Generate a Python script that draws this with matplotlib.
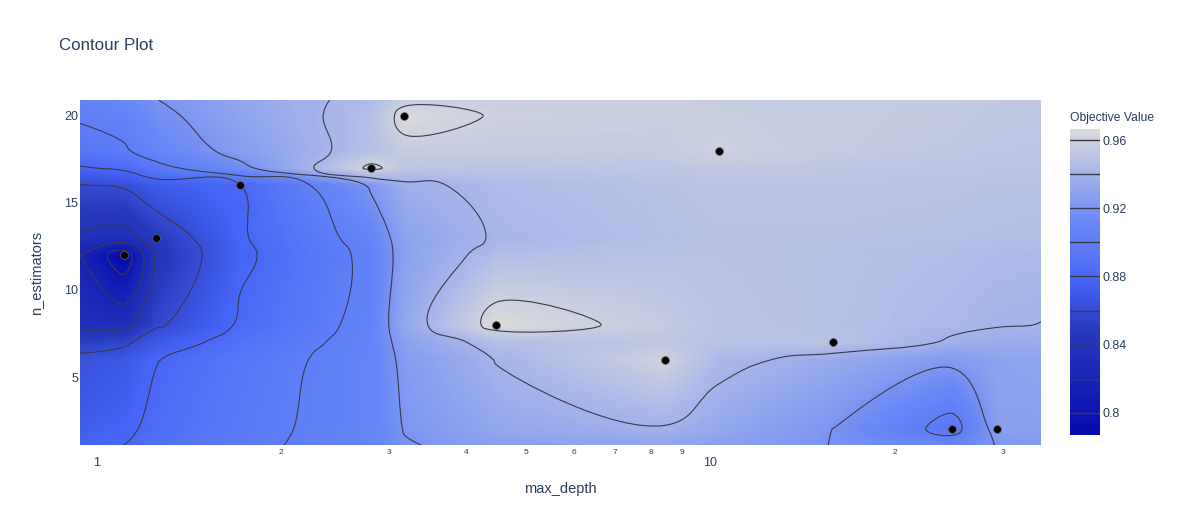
import numpy as np
import matplotlib
matplotlib.use('Agg')
import matplotlib.pyplot as plt
from matplotlib.colors import LinearSegmentedColormap, Normalize
from matplotlib.cm import ScalarMappable
from matplotlib.ticker import FixedLocator
from matplotlib.path import Path
from matplotlib.patches import PathPatch
from matplotlib.transforms import Affine2D
import contourpy

plt.rcParams['font.family'] = ['Liberation Sans', 'DejaVu Sans']

# trials
max_depth = [3.174, 10.33, 2.804, 1.716, 1.249, 1.108, 4.481, 15.81, 8.437, 24.74, 29.32]
n_estimators = [20, 18, 17, 16, 13, 12, 8, 7, 6, 2, 2]
objective = [0.9658, 0.959, 0.9638, 0.880, 0.848, 0.787, 0.9665, 0.950, 0.9595, 0.893, 0.927]

levels = [0.80, 0.82, 0.84, 0.86, 0.88, 0.90, 0.92, 0.94, 0.96]
cbar_ticks = [0.80, 0.84, 0.88, 0.92, 0.96]
cbar_labels = ['0.8', '0.84', '0.88', '0.92', '0.96']
x_major = [1, 10]
x_minor = [2, 3, 4, 5, 6, 7, 8, 9, 20, 30]
x_minor_labels = ['2', '3', '4', '5', '6', '7', '8', '9', '2', '3']
y_ticks = [5, 10, 15, 20]

txt = '#2a3f5f'
line_col = '#3a3a4a'


def find_empties(z):
    # order in which plotly fills gaps (connectgaps)
    ny, nx = len(z), len(z[0])
    isdef = lambda i, j: 0 <= i < ny and 0 <= j < nx and z[i][j] is not None
    empties, hash_, lonely = [], {}, []
    for i in range(ny):
        for j in range(nx):
            if z[i][j] is None:
                c = isdef(i, j-1) + isdef(i, j+1) + isdef(i-1, j) + isdef(i+1, j)
                if c:
                    c += (i == 0) + (j == 0) + (i == ny-1) + (j == nx-1)
                    if c < 4:
                        hash_[(i, j)] = c
                    empties.append((i, j, c))
                else:
                    lonely.append((i, j))
    while lonely:
        new = {}
        for p in range(len(lonely)-1, -1, -1):
            i, j = lonely[p]
            c = sum(hash_.get(k, 0) for k in [(i-1, j), (i+1, j), (i, j-1), (i, j+1)]) / 20
            if c:
                new[(i, j)] = c
                lonely.pop(p)
        for k, c in new.items():
            hash_[k] = c
            empties.append((k[0], k[1], c))
    return sorted(empties, key=lambda e: -e[2])


def iterate(z, empties, overshoot=None):
    ny, nx = len(z), len(z[0])
    maxchange = 0
    for i, j, _ in empties:
        init = z[i][j]
        vals = [z[i+a][j+b] for a, b in [(-1, 0), (1, 0), (0, -1), (0, 1)]
                if 0 <= i+a < ny and 0 <= j+b < nx and z[i+a][j+b] is not None]
        z[i][j] = sum(vals) / len(vals)
        if overshoot is None:
            if len(vals) < 4:
                maxchange = 1
        else:
            z[i][j] = (1 + overshoot) * z[i][j] - overshoot * init
            if max(vals) > min(vals):
                maxchange = max(maxchange, abs(z[i][j] - init) / (max(vals) - min(vals)))
    return maxchange


def connect_gaps(z):
    empties = find_empties(z)
    iterate(z, empties)
    k = 0
    while k < len(empties) and empties[k][2] >= 4:
        k += 1
    empties = empties[k:]
    ch = 1
    for _ in range(100):
        if ch <= 0.01:
            break
        ch = iterate(z, empties, 0.5 - 0.25 * min(1, ch * 0.5))
    return np.array(z, float)


def tangent(p0, p1, p2, s):
    d1, d2 = p0 - p1, p2 - p1
    a1, a2 = (d1 @ d1) ** 0.25, (d2 @ d2) ** 0.25
    num = (a2 * a2 * d1 - a1 * a1 * d2) * s
    den1, den2 = 3 * a2 * (a1 + a2), 3 * a1 * (a1 + a2)
    return (p1 + (num / den1 if den1 else 0), p1 - (num / den2 if den2 else 0))


def smooth_path(pts, closed, s=1.3):
    keep = [pts[0]]
    for p in pts[1:]:
        if np.hypot(*(p - keep[-1])) > 0.3:
            keep.append(p)
    pts = np.array(keep)
    if closed and len(pts) > 1 and np.hypot(*(pts[0] - pts[-1])) < 0.3:
        pts = pts[:-1]
    n = len(pts)
    if n < 3:
        return Path(pts)
    verts, codes = [pts[0]], [Path.MOVETO]
    if closed:
        t = [tangent(pts[i-1], pts[i], pts[(i+1) % n], s) for i in range(n)]
        for i in range(1, n + 1):
            verts += [t[i-1][1], t[i % n][0], pts[i % n]]
            codes += [Path.CURVE4] * 3
    else:
        t = [tangent(pts[i-1], pts[i], pts[i+1], s) for i in range(1, n - 1)]
        verts += [t[0][0], pts[1]]
        codes += [Path.CURVE3] * 2
        for i in range(2, n - 1):
            verts += [t[i-2][1], t[i-1][0], pts[i]]
            codes += [Path.CURVE4] * 3
        verts += [t[-1][1], pts[-1]]
        codes += [Path.CURVE3] * 2
    return Path(np.array(verts), codes)


# grid = unique param values plus 5% padding on each side
lx = np.log10(max_depth)
pad = (lx.max() - lx.min()) * 0.05
xs = [10**(lx.min() - pad)] + sorted(set(max_depth)) + [10**(lx.max() + pad)]
pad = (max(n_estimators) - min(n_estimators)) * 0.05
ys = [min(n_estimators) - pad] + sorted(set(n_estimators)) + [max(n_estimators) + pad]
grid = [[None] * len(xs) for _ in ys]
for x, y, v in zip(max_depth, n_estimators, objective):
    grid[ys.index(y)][xs.index(x)] = v
Z = connect_gaps(grid)

# heatmap smoothing between grid nodes (linear in screen space)
lxs = np.log10(xs)
fx = np.linspace(lxs[0], lxs[-1], 600)
fy = np.linspace(ys[0], ys[-1], 300)
Zr = np.array([np.interp(fx, lxs, row) for row in Z])
Zf = np.array([np.interp(fy, ys, col) for col in Zr.T]).T
FX, FY = np.meshgrid(10**fx, fy)

cmap = LinearSegmentedColormap.from_list('plotly_blues', [
    (0.0, (5/255, 10/255, 172/255)), (0.35, (40/255, 60/255, 190/255)),
    (0.5, (70/255, 100/255, 245/255)), (0.6, (90/255, 120/255, 245/255)),
    (0.7, (106/255, 137/255, 247/255)), (1.0, (220/255, 220/255, 220/255))])
norm = Normalize(vmin=min(objective), vmax=max(objective))

fig = plt.figure(figsize=(11.77, 5.25), dpi=100)
W, H = 1177, 525
AW, AH = 961, 345
ax = fig.add_axes([80/W, (H-445)/H, AW/W, AH/H])
ax.set_xscale('log')
ax.pcolormesh(FX, FY, Zf, cmap=cmap, norm=norm, shading='gouraud', rasterized=True)

# contour lines on the coarse grid, smoothed like plotly (line_smoothing=1.3)
gen = contourpy.contour_generator(np.array(xs), np.array(ys), Z)
to_px = Affine2D().scale(1 / AW, 1 / AH) + ax.transAxes
for lv in levels:
    for seg in gen.lines(lv):
        if len(seg) < 2:
            continue
        closed = np.allclose(seg[0], seg[-1])
        px_ = (np.log10(seg[:, 0]) - lxs[0]) / (lxs[-1] - lxs[0]) * AW
        py_ = (seg[:, 1] - ys[0]) / (ys[-1] - ys[0]) * AH
        path = smooth_path(np.column_stack([px_, py_]), closed)
        ax.add_patch(PathPatch(path, transform=to_px, fill=False, edgecolor=line_col,
                               linewidth=0.8, clip_on=True))

ax.scatter(max_depth, n_estimators, s=32, c='black', edgecolors='#666666', linewidths=0.5, zorder=5)
ax.set_xlim(xs[0], xs[-1])
ax.set_ylim(ys[0], ys[-1])
for sp in ax.spines.values():
    sp.set_visible(False)

ax.xaxis.set_major_locator(FixedLocator(x_major))
ax.set_xticklabels([str(v) for v in x_major])
ax.xaxis.set_minor_locator(FixedLocator(x_minor))
ax.set_xticklabels(x_minor_labels, minor=True)
ax.tick_params(axis='x', which='major', length=0, pad=9, labelsize=9, labelcolor=txt)
ax.tick_params(axis='x', which='minor', length=0, pad=3, labelsize=6, labelcolor=txt)
ax.set_yticks(y_ticks)
ax.tick_params(axis='y', length=0, pad=1.5, labelsize=9, labelcolor=txt)
ax.set_xlabel('max_depth', fontsize=10.5, color=txt, labelpad=9)
ax.set_ylabel('n_estimators', fontsize=10.5, color=txt, labelpad=15)

fig.text(59/W, 1 - 45/H, 'Contour Plot', fontsize=12.2, color=txt, va='center', ha='left')

cax = fig.add_axes([1070/W, (H-435)/H, 30/W, 306/H])
cb = fig.colorbar(ScalarMappable(norm=norm, cmap=cmap), cax=cax)
cb.outline.set_visible(False)
for lv in levels:
    cax.axhline(lv, color=line_col, lw=1)
cb.set_ticks(cbar_ticks)
cb.set_ticklabels(cbar_labels)
cax.tick_params(length=0, pad=1.5, labelsize=9, labelcolor=txt)
fig.text(1070/W, 1 - 118/H, 'Objective Value', fontsize=8.7, color=txt, va='center', ha='left')

fig.savefig('out.png', dpi=100)
